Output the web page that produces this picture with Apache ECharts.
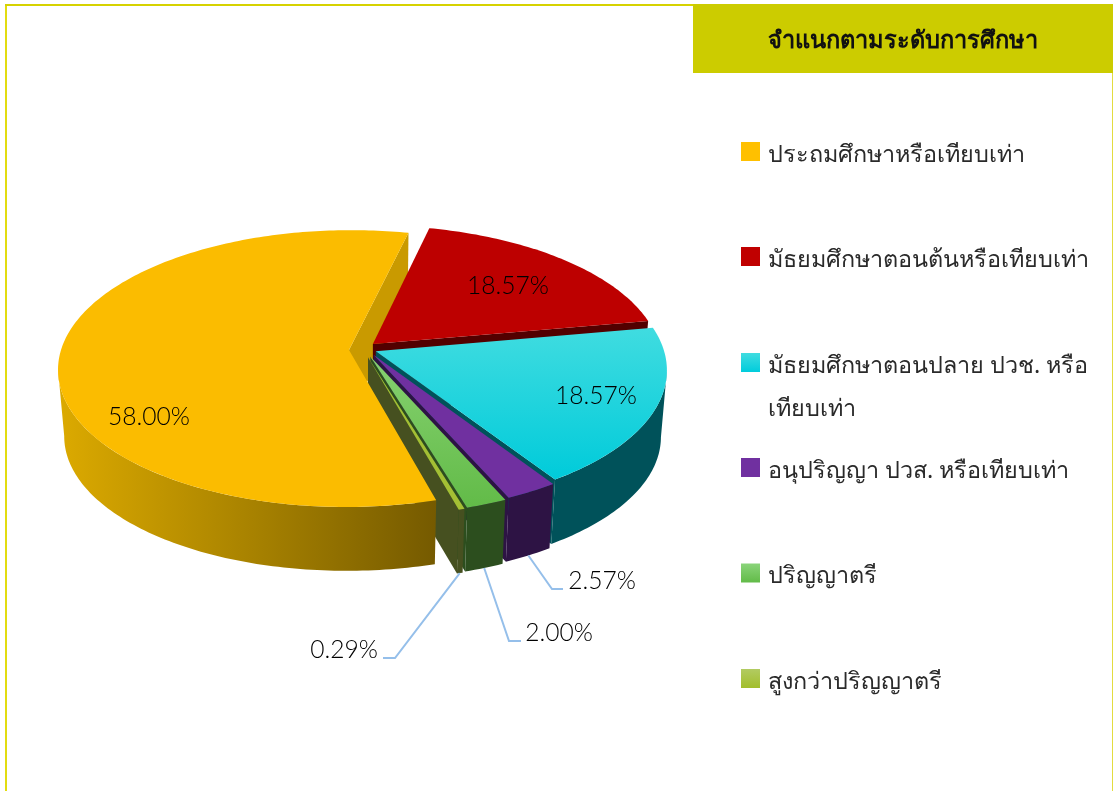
<!DOCTYPE html>
<html>
	<head>
		<meta charset="UTF-8">
		<title></title>
		<script src="https://cdn.jsdelivr.net/npm/echarts@6/dist/echarts.min.js"></script>
		<style>
			html, body { margin: 0; padding: 0; background: #fff; }
		</style>
	</head>
	<body>
		<div id="main" style="width: 1113px;height:791px;"></div>
	</body>
	<script type="application/javascript">
// data
var chartTitle = 'จำแนกตามระดับการศึกษา';
var categories = ['ประถมศึกษาหรือเทียบเท่า', 'มัธยมศึกษาตอนต้นหรือเทียบเท่า', 'มัธยมศึกษาตอนปลาย ปวช. หรือ\nเทียบเท่า', 'อนุปริญญา ปวส. หรือเทียบเท่า', 'ปริญญาตรี', 'สูงกว่าปริญญาตรี'];
var shares = [58.00, 18.57, 18.57, 2.57, 2.00, 0.29];

// pie look: a circle seen in perspective
var startAngle = 164.2;
var pie = { cx: 368, cy: 350, r: 288, squash: 0.472, persp: 0.134, depth: 67, shrink: 0.98 };
// how far each slice is pulled out, in units of the radius [sideways, away from viewer]
var explode = [[-0.066, 0], [0.017, 0.044], [0.027, -0.009], [0.019, -0.035], [0.008, -0.047], [0, -0.053]];

function vGrad(a, b) {
	return { type: 'linear', x: 0, y: 0, x2: 0, y2: 1, colorStops: [{ offset: 0, color: a }, { offset: 1, color: b }] };
}
var topFill = ['#FBBC00', '#BD0000', vGrad('#40DCE0', '#00CBDA'), '#7030A0', vGrad('#86D170', '#62BB48'), '#A4BF34'];
var swatchFill = ['#FFC000', '#C00000', vGrad('#40DCE0', '#00CCDC'), '#7030A0', vGrad('#8AD47A', '#62BB48'), vGrad('#B2CB62', '#A2BE2C')];
var wallFill = [{
	type: 'linear', x: 0, y: 0, x2: 1, y2: 0,
	colorStops: [{ offset: 0, color: '#DCAA00' }, { offset: 0.5, color: '#A98300' }, { offset: 1, color: '#755A00' }]
}, '#520000', '#00525A', '#2D1344', '#2C4E1E', '#465020'];
var endWallFill = ['#C99A00', '#520000', '#00525A', '#2D1344', '#2C4E1E', '#465020'];

// labels: where they sit, elbow of the leader if they have one
var labelLayout = [
	{ x: 149, y: 417 },
	{ x: 508, y: 286 },
	{ x: 596, y: 396 },
	{ x: 602, y: 581, elbow: [[552, 589], [563, 589]] },
	{ x: 559, y: 633, elbow: [[509, 641], [521, 641]] },
	{ x: 344, y: 650, elbow: [[395, 658], [383, 658]] }
];
var legendTops = [126.5, 231.5, 294.5, 442.5, 548, 653.5];

var angles = [];
(function() {
	var a = startAngle;
	for(var i = 0; i < shares.length; i++) {
		angles.push([a, a + shares[i] / 100 * 360]);
		a += shares[i] / 100 * 360;
	}
})();

function project(i, deg, rad) {
	var t = deg * Math.PI / 180;
	var u = rad * Math.sin(t) + explode[i][0];
	var v = rad * Math.cos(t) + explode[i][1];
	var w = 1 + pie.persp * v;
	return [pie.r * u / w, -pie.r * pie.squash * v / w];
}
function topPoint(i, deg, rad) {
	var p = project(i, deg, rad);
	return [pie.cx + p[0], pie.cy + p[1]];
}
function lowPoint(i, deg, rad) {
	var p = project(i, deg, rad);
	return [pie.cx + p[0] * pie.shrink, pie.cy + p[1] * pie.shrink + pie.depth];
}
function arc(fn, i, a, b) {
	var pts = [];
	var n = Math.max(2, Math.ceil(Math.abs(b - a)));
	for(var k = 0; k <= n; k++) {
		pts.push(fn(i, a + (b - a) * k / n, 1));
	}
	return pts;
}
function poly(points, fill) {
	return { type: 'polygon', shape: { points: points }, style: { fill: fill } };
}
function endWall(i) {
	var e = angles[i][1];
	return poly([topPoint(i, e, 0), topPoint(i, e, 1), lowPoint(i, e, 1), lowPoint(i, e, 0)], endWallFill[i]);
}
function outerWall(i) {
	var s = angles[i][0], e = angles[i][1];
	if(s >= 360) {
		s -= 360;
		e -= 360;
	}
	// only the part of the rim that faces the viewer
	var a = Math.max(s, 98);
	var b = Math.min(e, 262);
	if(b <= a) return null;
	return poly(arc(topPoint, i, a, b).concat(arc(lowPoint, i, a, b).reverse()), wallFill[i]);
}
function renderSlice(i) {
	var kids = [];
	var s = angles[i][0], e = angles[i][1];
	// yellow keeps its end wall in a series of its own, behind the red slice
	if(i !== 0) kids.push(endWall(i));
	var wall = outerWall(i);
	if(wall) kids.push(wall);
	kids.push(poly([topPoint(i, s, 0)].concat(arc(topPoint, i, s, e)), topFill[i]));
	var lay = labelLayout[i];
	if(lay.elbow) {
		var from = lowPoint(i, (s + e) / 2, 1);
		kids.push({
			type: 'polyline',
			shape: { points: [from].concat(lay.elbow) },
			style: { stroke: '#95BFEA', lineWidth: 2, fill: 'none' }
		});
	}
	kids.push({
		type: 'text',
		style: {
			x: lay.x, y: lay.y,
			text: shares[i].toFixed(2) + '%',
			fill: '#000',
			font: '300 24.6px Lato',
			align: 'center',
			verticalAlign: 'middle'
		}
	});
	return { type: 'group', children: kids };
}

var seriesList = [{
	name: 'wall',
	type: 'custom',
	coordinateSystem: 'none',
	silent: true,
	animation: false,
	z: 1,
	data: [[shares[0]]],
	renderItem: function() {
		return endWall(0);
	}
}];
// painter's order: red to olive, yellow last because its top hides the olive wall
[1, 2, 3, 4, 5, 0].forEach(function(idx, order) {
	seriesList.push({
		name: categories[idx],
		type: 'custom',
		coordinateSystem: 'none',
		silent: true,
		animation: false,
		z: 2 + order,
		itemStyle: { color: swatchFill[idx] },
		data: [[shares[idx]]],
		renderItem: function() {
			return renderSlice(idx);
		}
	});
});

var legends = categories.map(function(name, i) {
	return {
		left: 741,
		top: legendTops[i],
		padding: 0,
		itemWidth: 19,
		itemHeight: 19,
		itemGap: 0,
		icon: 'rect',
		selectedMode: false,
		data: [{ name: name, itemStyle: { color: swatchFill[i] } }],
		// blank lines on top keep the swatch level with the first real line of text
		formatter: function(n) {
			var lines = n.split('\n').map(function(l) {
				return '{t|' + l + '}';
			});
			if(lines.length > 1) lines.unshift('{t|\u00a0}');
			return '{gap|\u00a0}\n' + lines.join('\n');
		},
		textStyle: {
			padding: [0, 0, 0, 3],
			rich: {
				gap: { fontSize: 7, lineHeight: 7, height: 7 },
				t: { fontSize: 23.4, lineHeight: 43, color: '#2a2a2a', fontFamily: 'Noto Sans' }
			}
		}
	};
});

var myChart = echarts.init(document.getElementById('main'));
myChart.setOption({
	backgroundColor: '#fff',
	animation: false,
	title: {
		text: chartTitle,
		left: 898,
		top: 24,
		textAlign: 'center',
		textStyle: { fontSize: 23.6, fontWeight: 'bold', color: '#111', fontFamily: 'Noto Sans' },
		z: 10
	},
	legend: legends,
	graphic: [
		{ type: 'rect', shape: { x: 5, y: 4, width: 2, height: 787 }, style: { fill: '#E2DC10' }, silent: true },
		{ type: 'rect', shape: { x: 5, y: 4, width: 690, height: 2 }, style: { fill: '#D6D200' }, silent: true },
		{ type: 'rect', shape: { x: 1112, y: 4, width: 1, height: 787 }, style: { fill: '#E2DC40' }, silent: true },
		{ type: 'rect', shape: { x: 693, y: 4, width: 420, height: 69 }, style: { fill: '#CCCC00' }, silent: true }
	],
	series: seriesList
});
	</script>
</html>
